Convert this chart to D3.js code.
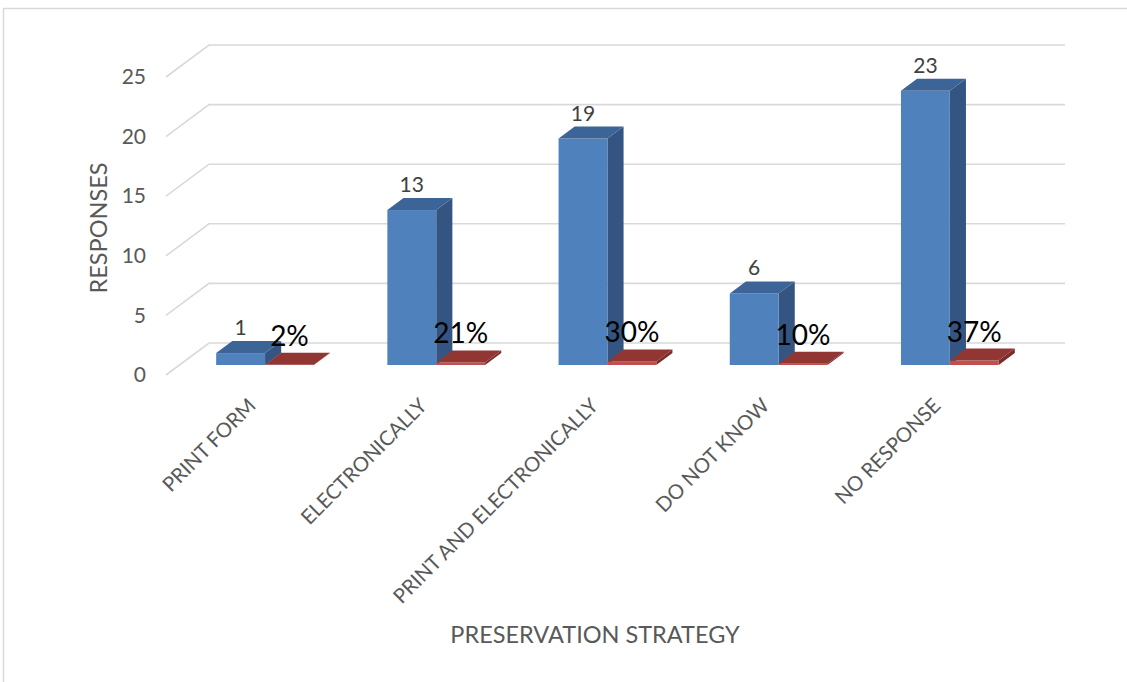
<!DOCTYPE html>
<html>
<head>
<meta charset="utf-8">
<script src="https://cdn.jsdelivr.net/npm/d3@7"></script>
<style>
  html, body { margin: 0; padding: 0; background: #fff; }
  svg { display: block; }
  text { font-family: Lato, "Open Sans", sans-serif; }
</style>
</head>
<body>
<svg id="chart" width="1127" height="682"></svg>
<script>
// Survey results: how respondents preserve records
const categories = ["PRINT FORM", "ELECTRONICALLY", "PRINT AND ELECTRONICALLY", "DO NOT KNOW", "NO RESPONSE"];
const responses = [1, 13, 19, 6, 23];
const shares = [0.02, 0.21, 0.30, 0.10, 0.37];
const shareLabels = ["2%", "21%", "30%", "10%", "37%"];
const yTicks = [0, 5, 10, 15, 20, 25];
const seriesKeys = ["responses", "share"];

const svg = d3.select("#chart");
const W = 1127, H = 682;

// outer chart frame
svg.append("rect")
  .attr("x", 3.5).attr("y", 8.5)
  .attr("width", W + 20).attr("height", H + 20)
  .attr("fill", "none").attr("stroke", "#d9d9d9").attr("stroke-width", 1.5);

// 3D box: front floor edge plus a depth offset to the back wall
const front = { left: 166, right: 1022, base: 375, top: 77 };
const depth = { dx: 43, dy: -32 };
const barDepth = [0.3125, 0.6875]; // bars sit in the middle of the box depth

const x0 = d3.scaleBand()
  .domain(categories)
  .range([front.left, front.right])
  .paddingInner(0.429)
  .paddingOuter(0.2145);

const x1 = d3.scaleBand()
  .domain(seriesKeys)
  .range([0, x0.bandwidth()])
  .padding(0);

const y = d3.scaleLinear().domain([0, 25]).range([front.base, front.top]);

// gridlines: slanted on the left wall, horizontal on the back wall
const grid = svg.append("g");
yTicks.forEach(t => {
  const yy = y(t);
  grid.append("path")
    .attr("d", `M${front.left},${yy} L${front.left + depth.dx},${yy + depth.dy} L${front.right + depth.dx},${yy + depth.dy}`)
    .attr("fill", "none").attr("stroke", "#d9d9d9").attr("stroke-width", 1.6);
});

// y axis tick labels
const yAxis = svg.append("g")
  .attr("transform", `translate(${front.left - 18},0)`)
  .call(d3.axisLeft(y).tickValues(yTicks).tickSize(0).tickPadding(2));
yAxis.select(".domain").remove();
yAxis.selectAll("text")
  .attr("fill", "#595959")
  .style("font-size", "21px")
  .style("font-family", "Lato, sans-serif");

const colors = {
  responses: { front: "#4f81bd", top: "#3c6496", side: "#345582" },
  share: { front: "#c0504d", top: "#923634", side: "#7a2c2a" }
};

// draw a 3D column from its value
function drawColumn(g, xLeft, w, v, c) {
  const fx = xLeft + depth.dx * barDepth[0];
  const fy0 = front.base + depth.dy * barDepth[0];
  const h = fy0 - (y(v) + depth.dy * barDepth[0]);
  const ddx = depth.dx * (barDepth[1] - barDepth[0]);
  const ddy = depth.dy * (barDepth[1] - barDepth[0]);
  const fyTop = fy0 - h;
  // side face
  g.append("path")
    .attr("d", `M${fx + w},${fy0} L${fx + w + ddx},${fy0 + ddy} L${fx + w + ddx},${fyTop + ddy} L${fx + w},${fyTop} Z`)
    .attr("fill", c.side);
  // front face
  g.append("rect")
    .attr("x", fx).attr("y", fyTop).attr("width", w).attr("height", Math.max(h, 0))
    .attr("fill", c.front);
  // top face
  g.append("path")
    .attr("d", `M${fx},${fyTop} L${fx + w},${fyTop} L${fx + w + ddx},${fyTop + ddy} L${fx + ddx},${fyTop + ddy} Z`)
    .attr("fill", c.top);
  return { cx: fx + w / 2, topY: fyTop };
}

const bars = svg.append("g");
const labels = svg.append("g");
categories.forEach((cat, i) => {
  const g = bars.append("g");
  const b = drawColumn(g, x0(cat) + x1("responses"), x1.bandwidth(), responses[i], colors.responses);
  const r = drawColumn(g, x0(cat) + x1("share"), x1.bandwidth(), shares[i], colors.share);
  labels.append("text")
    .attr("x", b.cx).attr("y", b.topY - 18)
    .attr("text-anchor", "middle")
    .attr("fill", "#404040")
    .style("font-size", "21px")
    .text(responses[i]);
  labels.append("text")
    .attr("x", r.cx).attr("y", r.topY - 19)
    .attr("text-anchor", "middle")
    .attr("fill", "#000")
    .style("font-size", "28px")
    .text(shareLabels[i]);
});

// rotated category labels
const catG = svg.append("g");
categories.forEach(cat => {
  const cx = x0(cat) + x0.bandwidth() / 2 + depth.dx * barDepth[0];
  catG.append("text")
    .attr("transform", `translate(${cx - 8},${407}) rotate(-45)`)
    .attr("text-anchor", "end")
    .attr("fill", "#595959")
    .style("font-size", "20.3px")
    .text(cat);
});

// axis titles
svg.append("text")
  .attr("transform", "translate(107,228) rotate(-90)")
  .attr("text-anchor", "middle")
  .attr("fill", "#595959")
  .style("font-size", "23.5px")
  .text("RESPONSES");

svg.append("text")
  .attr("x", 595).attr("y", 643)
  .attr("text-anchor", "middle")
  .attr("fill", "#595959")
  .style("font-size", "23.5px")
  .text("PRESERVATION STRATEGY");
</script>
</body>
</html>
